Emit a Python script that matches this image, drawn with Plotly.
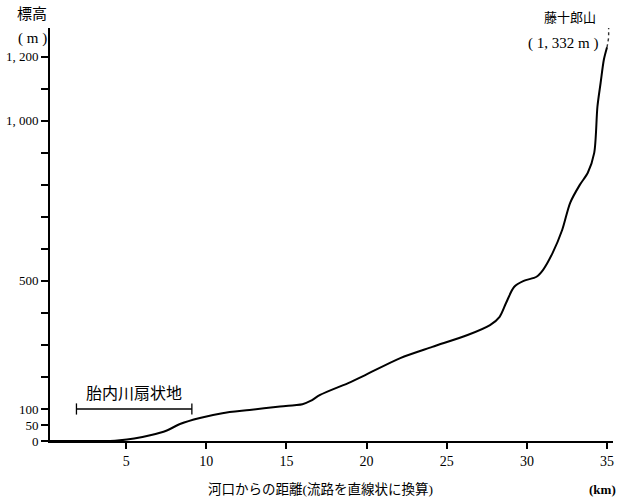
import plotly.graph_objects as go

# River profile data (distance from river mouth in km, elevation in m)
distance_km = [0.25, 1.0, 2.0, 3.0, 4.0, 4.6, 5.5, 6.5, 7.5, 8.4, 9.6, 11.0, 12.7,
               14.6, 15.5, 16.0, 16.5, 17.1, 19.0, 20.0, 22.1, 24.1, 26.3, 27.7,
               28.3, 28.7, 29.2, 29.8, 30.6, 31.0, 31.6, 32.2, 32.7, 33.3, 33.8,
               34.2, 34.4, 34.6, 34.8, 35.0]
elevation_m = [0, 0, 0, 0, 0, 2, 8, 18, 32, 54, 72, 87, 97,
               108, 112, 115, 125, 144, 184, 208, 259, 294, 331, 362,
               388, 431, 481, 500, 513, 534, 587, 659, 744, 800, 838,
               900, 1044, 1119, 1191, 1230]
# faint (dotted) top section up to the summit
summit_dist = [35.0, 35.1, 35.1]
summit_elev = [1230, 1260, 1290]

# Fan extent (胎内川扇状地)
fan_dist = [1.9, 9.1]
fan_elev = [100, 100]

y_tickvals = [0, 50, 100, 200, 300, 400, 500, 600, 700, 800, 900, 1000, 1100, 1200]
y_ticktext = ["0", "50", "100", "", "", "", "500", "", "", "", "", "1, 000", "", "1, 200"]
x_tickvals = [5, 10, 15, 20, 25, 30, 35]

FONT = "Liberation Serif, Noto Sans CJK JP, serif"

L, R, T, B = 50, 6, 28, 59
W, H = 619 - L - R, 500 - T - B


def px(xp):
    return (xp - L) / W


def py(yp):
    return (500 - B - yp) / H


fig = go.Figure()
fig.add_trace(go.Scatter(x=distance_km, y=elevation_m, mode="lines",
                         line=dict(color="black", width=2, shape="spline", smoothing=0.8),
                         hoverinfo="skip"))
fig.add_trace(go.Scatter(x=summit_dist, y=summit_elev, mode="lines",
                         line=dict(color="#333333", width=1.4, dash="dot"),
                         hoverinfo="skip"))
fig.add_trace(go.Scatter(x=fan_dist, y=fan_elev, mode="lines+markers",
                         line=dict(color="black", width=1.3),
                         marker=dict(symbol="line-ns-open", size=8,
                                     line=dict(color="black", width=1.3)),
                         hoverinfo="skip"))


def note(x, y, text, size, xanchor="center"):
    return dict(x=px(x), y=py(y), xref="paper", yref="paper", text=text,
                showarrow=False, xanchor=xanchor, yanchor="middle",
                font=dict(size=size))


fig.update_layout(
    width=619, height=500,
    margin=dict(l=L, r=R, t=T, b=B),
    paper_bgcolor="white", plot_bgcolor="white",
    showlegend=False,
    font=dict(family=FONT, size=13, color="black"),
    xaxis=dict(range=[0.25, 0.25 + W / 16.03], showline=True, linecolor="black",
               linewidth=2, tickvals=x_tickvals, ticks="outside", ticklen=6,
               tickwidth=1.5, tickcolor="black", showgrid=False, zeroline=False,
               automargin=False, tickfont=dict(family=FONT, size=14)),
    yaxis=dict(range=[0, 1290], showline=True, linecolor="black", linewidth=2,
               tickvals=y_tickvals, ticktext=y_ticktext, ticks="outside",
               ticklen=7, tickwidth=1.5, tickcolor="black", showgrid=False,
               zeroline=False, automargin=False, tickfont=dict(family=FONT, size=13)),
    annotations=[
        note(32, 14, "標高", 15),
        note(32, 38, "( m )", 15),
        note(598, 18, "藤十郎山", 13, "right"),
        note(600, 43, "( 1, 332 m )", 15, "right"),
        note(134, 393, "胎内川扇状地", 16),
        note(320, 490, "河口からの距離(流路を直線状に換算)", 13.5),
        note(618, 490, "<b>(km)</b>", 13, "right"),
    ],
)

fig.write_html("out.html", config={"displayModeBar": False},
               post_script="document.body.style.margin='0';")
